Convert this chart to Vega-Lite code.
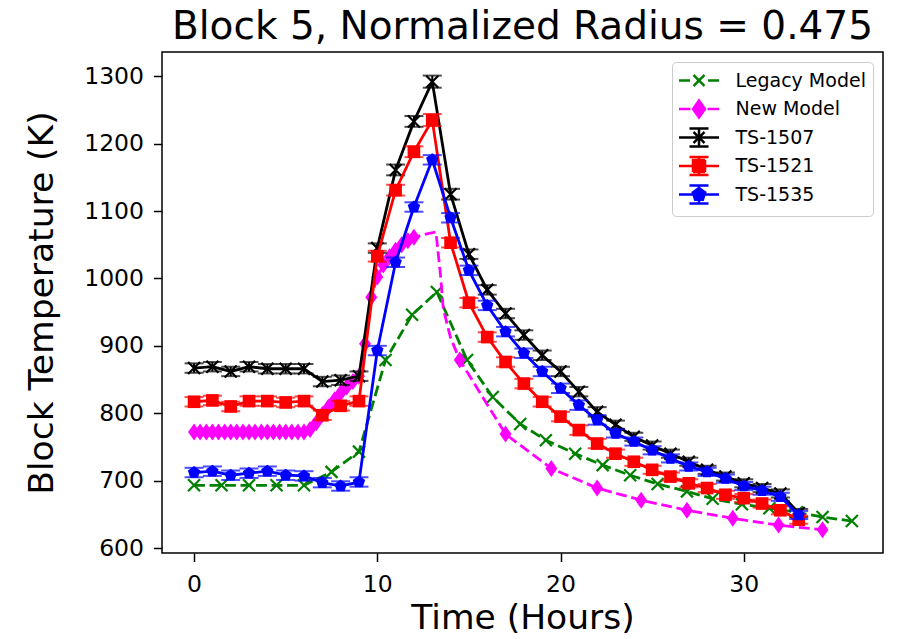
{
"$schema": "https://vega.github.io/schema/vega-lite/v6.json",
"autosize": {"type": "none"},
"width": 721,
"height": 501,
"padding": {"left": 162, "top": 52, "right": 14, "bottom": 86},
"background": "white",
"title": {"text": "Block 5, Normalized Radius = 0.475", "fontSize": 39, "fontWeight": "normal", "font": "DejaVu Sans", "color": "black", "anchor": "middle", "offset": 5},
"config": {
  "font": "DejaVu Sans",
  "view": {"stroke": "black", "strokeWidth": 1.5},
  "axis": {"grid": false, "domain": false, "tickColor": "black", "tickWidth": 1.5, "tickSize": 8.5, "labelColor": "black", "labelFont": "DejaVu Sans", "labelFontSize": 23.5, "titleFont": "DejaVu Sans", "titleFontSize": 34.5, "titleFontWeight": "normal", "titleColor": "black"}
},
"datasets": {
  "pts": [
    {"series": "Legacy Model", "time": 0, "temp": 693},
    {"series": "Legacy Model", "time": 1.5, "temp": 693},
    {"series": "Legacy Model", "time": 3, "temp": 693},
    {"series": "Legacy Model", "time": 4.5, "temp": 693},
    {"series": "Legacy Model", "time": 6, "temp": 693},
    {"series": "Legacy Model", "time": 7.5, "temp": 713},
    {"series": "Legacy Model", "time": 9, "temp": 743},
    {"series": "Legacy Model", "time": 10.45, "temp": 879},
    {"series": "Legacy Model", "time": 11.9, "temp": 946},
    {"series": "Legacy Model", "time": 13.25, "temp": 980},
    {"series": "Legacy Model", "time": 14.9, "temp": 879},
    {"series": "Legacy Model", "time": 16.3, "temp": 824},
    {"series": "Legacy Model", "time": 17.8, "temp": 784},
    {"series": "Legacy Model", "time": 19.2, "temp": 760},
    {"series": "Legacy Model", "time": 20.8, "temp": 740},
    {"series": "Legacy Model", "time": 22.3, "temp": 723},
    {"series": "Legacy Model", "time": 23.8, "temp": 708},
    {"series": "Legacy Model", "time": 25.3, "temp": 695},
    {"series": "Legacy Model", "time": 26.9, "temp": 684},
    {"series": "Legacy Model", "time": 28.3, "temp": 673},
    {"series": "Legacy Model", "time": 29.9, "temp": 665},
    {"series": "Legacy Model", "time": 31.4, "temp": 659},
    {"series": "Legacy Model", "time": 32.9, "temp": 653},
    {"series": "Legacy Model", "time": 34.3, "temp": 646},
    {"series": "Legacy Model", "time": 35.9, "temp": 640},

    {"series": "New Model", "time": 0, "temp": 772},
    {"series": "New Model", "time": 0.33, "temp": 772},
    {"series": "New Model", "time": 0.67, "temp": 772},
    {"series": "New Model", "time": 1.0, "temp": 772},
    {"series": "New Model", "time": 1.33, "temp": 772},
    {"series": "New Model", "time": 1.67, "temp": 772},
    {"series": "New Model", "time": 2.0, "temp": 772},
    {"series": "New Model", "time": 2.33, "temp": 772},
    {"series": "New Model", "time": 2.67, "temp": 772},
    {"series": "New Model", "time": 3.0, "temp": 772},
    {"series": "New Model", "time": 3.33, "temp": 772},
    {"series": "New Model", "time": 3.67, "temp": 772},
    {"series": "New Model", "time": 4.0, "temp": 772},
    {"series": "New Model", "time": 4.33, "temp": 772},
    {"series": "New Model", "time": 4.67, "temp": 772},
    {"series": "New Model", "time": 5.0, "temp": 772},
    {"series": "New Model", "time": 5.33, "temp": 772},
    {"series": "New Model", "time": 5.67, "temp": 772},
    {"series": "New Model", "time": 6.0, "temp": 772},
    {"series": "New Model", "time": 6.33, "temp": 776},
    {"series": "New Model", "time": 6.67, "temp": 786},
    {"series": "New Model", "time": 7.0, "temp": 798},
    {"series": "New Model", "time": 7.33, "temp": 809},
    {"series": "New Model", "time": 7.67, "temp": 820},
    {"series": "New Model", "time": 8.0, "temp": 830},
    {"series": "New Model", "time": 8.33, "temp": 839},
    {"series": "New Model", "time": 8.67, "temp": 847},
    {"series": "New Model", "time": 9.0, "temp": 855},
    {"series": "New Model", "time": 9.33, "temp": 903},
    {"series": "New Model", "time": 9.67, "temp": 972},
    {"series": "New Model", "time": 10.0, "temp": 1002},
    {"series": "New Model", "time": 10.33, "temp": 1020},
    {"series": "New Model", "time": 10.67, "temp": 1032},
    {"series": "New Model", "time": 11.0, "temp": 1042},
    {"series": "New Model", "time": 11.33, "temp": 1050},
    {"series": "New Model", "time": 11.67, "temp": 1056},
    {"series": "New Model", "time": 12.0, "temp": 1061},
    {"series": "New Model", "time": 12.7, "temp": 1066},
    {"series": "New Model", "time": 13.2, "temp": 1069},
    {"series": "New Model", "time": 13.45, "temp": 1005},
    {"series": "New Model", "time": 13.6, "temp": 955},
    {"series": "New Model", "time": 14.0, "temp": 912},
    {"series": "New Model", "time": 14.5, "temp": 879},
    {"series": "New Model", "time": 17.0, "temp": 769},
    {"series": "New Model", "time": 19.5, "temp": 718},
    {"series": "New Model", "time": 22.0, "temp": 689},
    {"series": "New Model", "time": 24.4, "temp": 671},
    {"series": "New Model", "time": 26.9, "temp": 656},
    {"series": "New Model", "time": 29.4, "temp": 644},
    {"series": "New Model", "time": 31.9, "temp": 634},
    {"series": "New Model", "time": 34.3, "temp": 627},

    {"series": "TS-1507", "time": 0, "temp": 867, "err": 7},
    {"series": "TS-1507", "time": 1, "temp": 869, "err": 7},
    {"series": "TS-1507", "time": 2, "temp": 862, "err": 7},
    {"series": "TS-1507", "time": 3, "temp": 869, "err": 7},
    {"series": "TS-1507", "time": 4, "temp": 866, "err": 7},
    {"series": "TS-1507", "time": 5, "temp": 866, "err": 7},
    {"series": "TS-1507", "time": 6, "temp": 866, "err": 7},
    {"series": "TS-1507", "time": 7, "temp": 847, "err": 7},
    {"series": "TS-1507", "time": 8, "temp": 849, "err": 7},
    {"series": "TS-1507", "time": 9, "temp": 855, "err": 7},
    {"series": "TS-1507", "time": 10, "temp": 1045, "err": 7},
    {"series": "TS-1507", "time": 11, "temp": 1161, "err": 8},
    {"series": "TS-1507", "time": 12, "temp": 1233, "err": 8},
    {"series": "TS-1507", "time": 13, "temp": 1292, "err": 9},
    {"series": "TS-1507", "time": 14, "temp": 1125, "err": 8},
    {"series": "TS-1507", "time": 15, "temp": 1036, "err": 7},
    {"series": "TS-1507", "time": 16, "temp": 983, "err": 7},
    {"series": "TS-1507", "time": 17, "temp": 948, "err": 7},
    {"series": "TS-1507", "time": 18, "temp": 916, "err": 7},
    {"series": "TS-1507", "time": 19, "temp": 886, "err": 7},
    {"series": "TS-1507", "time": 20, "temp": 862, "err": 7},
    {"series": "TS-1507", "time": 21, "temp": 832, "err": 7},
    {"series": "TS-1507", "time": 22, "temp": 802, "err": 7},
    {"series": "TS-1507", "time": 23, "temp": 783, "err": 6},
    {"series": "TS-1507", "time": 24, "temp": 765, "err": 6},
    {"series": "TS-1507", "time": 25, "temp": 752, "err": 6},
    {"series": "TS-1507", "time": 26, "temp": 740, "err": 6},
    {"series": "TS-1507", "time": 27, "temp": 728, "err": 6},
    {"series": "TS-1507", "time": 28, "temp": 716, "err": 6},
    {"series": "TS-1507", "time": 29, "temp": 706, "err": 6},
    {"series": "TS-1507", "time": 30, "temp": 696, "err": 6},
    {"series": "TS-1507", "time": 31, "temp": 689, "err": 6},
    {"series": "TS-1507", "time": 32, "temp": 681, "err": 6},
    {"series": "TS-1507", "time": 33, "temp": 652, "err": 6},

    {"series": "TS-1521", "time": 0, "temp": 817, "err": 7},
    {"series": "TS-1521", "time": 1, "temp": 819, "err": 7},
    {"series": "TS-1521", "time": 2, "temp": 810, "err": 7},
    {"series": "TS-1521", "time": 3, "temp": 818, "err": 7},
    {"series": "TS-1521", "time": 4, "temp": 818, "err": 7},
    {"series": "TS-1521", "time": 5, "temp": 816, "err": 7},
    {"series": "TS-1521", "time": 6, "temp": 818, "err": 7},
    {"series": "TS-1521", "time": 7, "temp": 797, "err": 7},
    {"series": "TS-1521", "time": 8, "temp": 811, "err": 7},
    {"series": "TS-1521", "time": 9, "temp": 818, "err": 7},
    {"series": "TS-1521", "time": 10, "temp": 1033, "err": 8},
    {"series": "TS-1521", "time": 11, "temp": 1131, "err": 8},
    {"series": "TS-1521", "time": 12, "temp": 1188, "err": 8},
    {"series": "TS-1521", "time": 13, "temp": 1235, "err": 9},
    {"series": "TS-1521", "time": 14, "temp": 1053, "err": 7},
    {"series": "TS-1521", "time": 15, "temp": 964, "err": 7},
    {"series": "TS-1521", "time": 16, "temp": 913, "err": 7},
    {"series": "TS-1521", "time": 17, "temp": 876, "err": 7},
    {"series": "TS-1521", "time": 18, "temp": 844, "err": 7},
    {"series": "TS-1521", "time": 19, "temp": 817, "err": 7},
    {"series": "TS-1521", "time": 20, "temp": 795, "err": 7},
    {"series": "TS-1521", "time": 21, "temp": 775, "err": 7},
    {"series": "TS-1521", "time": 22, "temp": 755, "err": 7},
    {"series": "TS-1521", "time": 23, "temp": 740, "err": 6},
    {"series": "TS-1521", "time": 24, "temp": 728, "err": 6},
    {"series": "TS-1521", "time": 25, "temp": 716, "err": 6},
    {"series": "TS-1521", "time": 26, "temp": 706, "err": 6},
    {"series": "TS-1521", "time": 27, "temp": 696, "err": 6},
    {"series": "TS-1521", "time": 28, "temp": 689, "err": 6},
    {"series": "TS-1521", "time": 29, "temp": 679, "err": 6},
    {"series": "TS-1521", "time": 30, "temp": 674, "err": 6},
    {"series": "TS-1521", "time": 31, "temp": 666, "err": 6},
    {"series": "TS-1521", "time": 32, "temp": 656, "err": 6},
    {"series": "TS-1521", "time": 33, "temp": 642, "err": 6},

    {"series": "TS-1535", "time": 0, "temp": 712, "err": 7},
    {"series": "TS-1535", "time": 1, "temp": 714, "err": 7},
    {"series": "TS-1535", "time": 2, "temp": 708, "err": 7},
    {"series": "TS-1535", "time": 3, "temp": 711, "err": 7},
    {"series": "TS-1535", "time": 4, "temp": 714, "err": 7},
    {"series": "TS-1535", "time": 5, "temp": 708, "err": 7},
    {"series": "TS-1535", "time": 6, "temp": 707, "err": 7},
    {"series": "TS-1535", "time": 7, "temp": 697, "err": 7},
    {"series": "TS-1535", "time": 8, "temp": 692, "err": 7},
    {"series": "TS-1535", "time": 9, "temp": 698, "err": 7},
    {"series": "TS-1535", "time": 10, "temp": 893, "err": 7},
    {"series": "TS-1535", "time": 11, "temp": 1024, "err": 7},
    {"series": "TS-1535", "time": 12, "temp": 1106, "err": 7},
    {"series": "TS-1535", "time": 13, "temp": 1176, "err": 7},
    {"series": "TS-1535", "time": 14, "temp": 1090, "err": 7},
    {"series": "TS-1535", "time": 15, "temp": 1012, "err": 7},
    {"series": "TS-1535", "time": 16, "temp": 960, "err": 7},
    {"series": "TS-1535", "time": 17, "temp": 921, "err": 7},
    {"series": "TS-1535", "time": 18, "temp": 889, "err": 7},
    {"series": "TS-1535", "time": 19, "temp": 862, "err": 7},
    {"series": "TS-1535", "time": 20, "temp": 837, "err": 7},
    {"series": "TS-1535", "time": 21, "temp": 812, "err": 7},
    {"series": "TS-1535", "time": 22, "temp": 790, "err": 7},
    {"series": "TS-1535", "time": 23, "temp": 770, "err": 6},
    {"series": "TS-1535", "time": 24, "temp": 758, "err": 6},
    {"series": "TS-1535", "time": 25, "temp": 745, "err": 6},
    {"series": "TS-1535", "time": 26, "temp": 733, "err": 6},
    {"series": "TS-1535", "time": 27, "temp": 721, "err": 6},
    {"series": "TS-1535", "time": 28, "temp": 713, "err": 6},
    {"series": "TS-1535", "time": 29, "temp": 703, "err": 6},
    {"series": "TS-1535", "time": 30, "temp": 692, "err": 6},
    {"series": "TS-1535", "time": 31, "temp": 685, "err": 6},
    {"series": "TS-1535", "time": 32, "temp": 676, "err": 6},
    {"series": "TS-1535", "time": 33, "temp": 649, "err": 6}
  ]
},
"data": {"name": "pts"},
"encoding": {
  "x": {"field": "time", "type": "quantitative", "title": "Time (Hours)",
        "scale": {"domain": [-1.75, 37.6], "nice": false, "zero": false},
        "axis": {"values": [0, 10, 20, 30], "labelPadding": 10.5, "titlePadding": 6}},
  "y": {"field": "temp", "type": "quantitative", "title": "Block Temperature (K)",
        "scale": {"domain": [592.6, 1336], "nice": false, "zero": false},
        "axis": {"values": [600, 700, 800, 900, 1000, 1100, 1200, 1300], "format": "d", "labelPadding": 10, "titlePadding": 24}}
},
"layer": [
  {"transform": [{"filter": "datum.series === 'Legacy Model'"}],
   "mark": {"type": "line", "strokeWidth": 2.8, "strokeDash": [10.8, 4.7]},
   "encoding": {"color": {"field": "series", "type": "nominal",
      "scale": {"domain": ["Legacy Model", "New Model", "TS-1507", "TS-1521", "TS-1535"], "range": ["#008000", "#ff00ff", "#000000", "#ff0000", "#0000ff"]},
      "legend": {"title": null, "orient": "top-right", "offset": 10, "padding": 7, "rowPadding": -0.5,
        "fillColor": "white", "strokeColor": "#cccccc", "cornerRadius": 4,
        "labelFont": "DejaVu Sans", "labelFontSize": 19, "labelColor": "black", "labelOffset": 25,
        "symbolSize": 400, "symbolOffset": 8.5, "symbolStrokeWidth": 2.5,
        "encode": {"symbols": {"update": {
          "shape": {"signal": "datum.value === 'Legacy Model' ? 'M0,-0.9L0,-0.9M0,0.9L0,0.9M-2,0H-0.9M0.9,0H2M-0.55,-0.55L0.55,0.55M-0.55,0.55L0.55,-0.55' : datum.value === 'New Model' ? 'M0,-0.9L0,-0.9M0,0.9L0,0.9M-2,0H-0.85M0.85,0H2M0,-0.85L0.6,0L0,0.85L-0.6,0Z' : datum.value === 'TS-1507' ? 'M-2,0H2M0,-0.9V0.9M-0.95,-0.9H0.95M-0.95,0.9H0.95M-0.55,-0.55L0.55,0.55M-0.55,0.55L0.55,-0.55' : datum.value === 'TS-1521' ? 'M-2,0H2M0,-0.9V0.9M-0.95,-0.9H0.95M-0.95,0.9H0.95M-0.6,-0.6H0.6V0.6H-0.6Z' : 'M-2,0H2M0,-0.9V0.9M-0.95,-0.9H0.95M-0.95,0.9H0.95M0,-0.65L0.62,-0.2L0.38,0.53L-0.38,0.53L-0.62,-0.2Z'"},
          "fill": {"scale": "color", "field": "value"},
          "stroke": {"scale": "color", "field": "value"},
          "strokeDash": {"value": [1, 0]},
          "opacity": {"value": 1},
          "fillOpacity": {"value": 1}
        }}}
      }}}},
  {"transform": [{"filter": "datum.series === 'Legacy Model'"}],
   "mark": {"type": "point", "shape": "M-1,-1L1,1M-1,1L1,-1", "filled": false, "size": 144, "strokeWidth": 2.2, "opacity": 1},
   "encoding": {"color": {"field": "series", "type": "nominal"}}},
  {"transform": [{"filter": "datum.series === 'New Model'"}],
   "mark": {"type": "line", "strokeWidth": 2.8, "strokeDash": [10.8, 4.7]},
   "encoding": {"color": {"field": "series", "type": "nominal"}}},
  {"transform": [{"filter": "datum.series === 'New Model' && (datum.time <= 12.01 || datum.time >= 14.4)"}],
   "mark": {"type": "point", "shape": "M0,-1L0.7,0L0,1L-0.7,0Z", "filled": true, "size": 289, "opacity": 1},
   "encoding": {"color": {"field": "series", "type": "nominal"}}},

  {"transform": [{"filter": "datum.series === 'TS-1507'"}],
   "mark": {"type": "line", "strokeWidth": 2.8},
   "encoding": {"color": {"field": "series", "type": "nominal"}}},
  {"transform": [{"filter": "datum.series === 'TS-1507'"}],
   "mark": {"type": "errorbar", "ticks": true, "size": 19, "thickness": 2, "color": "#000000"},
   "encoding": {"yError": {"field": "err"}}},
  {"transform": [{"filter": "datum.series === 'TS-1507'"}],
   "mark": {"type": "point", "shape": "M-1,-1L1,1M-1,1L1,-1", "filled": false, "size": 144, "strokeWidth": 2.2, "opacity": 1},
   "encoding": {"color": {"field": "series", "type": "nominal"}}},

  {"transform": [{"filter": "datum.series === 'TS-1521'"}],
   "mark": {"type": "line", "strokeWidth": 2.8},
   "encoding": {"color": {"field": "series", "type": "nominal"}}},
  {"transform": [{"filter": "datum.series === 'TS-1521'"}],
   "mark": {"type": "errorbar", "ticks": true, "size": 19, "thickness": 2, "color": "#ff0000"},
   "encoding": {"yError": {"field": "err"}}},
  {"transform": [{"filter": "datum.series === 'TS-1521'"}],
   "mark": {"type": "point", "shape": "square", "filled": true, "size": 160, "opacity": 1},
   "encoding": {"color": {"field": "series", "type": "nominal"}}},

  {"transform": [{"filter": "datum.series === 'TS-1535'"}],
   "mark": {"type": "line", "strokeWidth": 2.8},
   "encoding": {"color": {"field": "series", "type": "nominal"}}},
  {"transform": [{"filter": "datum.series === 'TS-1535'"}],
   "mark": {"type": "errorbar", "ticks": true, "size": 19, "thickness": 2, "color": "#0000ff"},
   "encoding": {"yError": {"field": "err"}}},
  {"transform": [{"filter": "datum.series === 'TS-1535'"}],
   "mark": {"type": "point", "shape": "M0,-1L0.951,-0.309L0.588,0.809L-0.588,0.809L-0.951,-0.309Z", "filled": true, "size": 170, "opacity": 1},
   "encoding": {"color": {"field": "series", "type": "nominal"}}}
]
}
